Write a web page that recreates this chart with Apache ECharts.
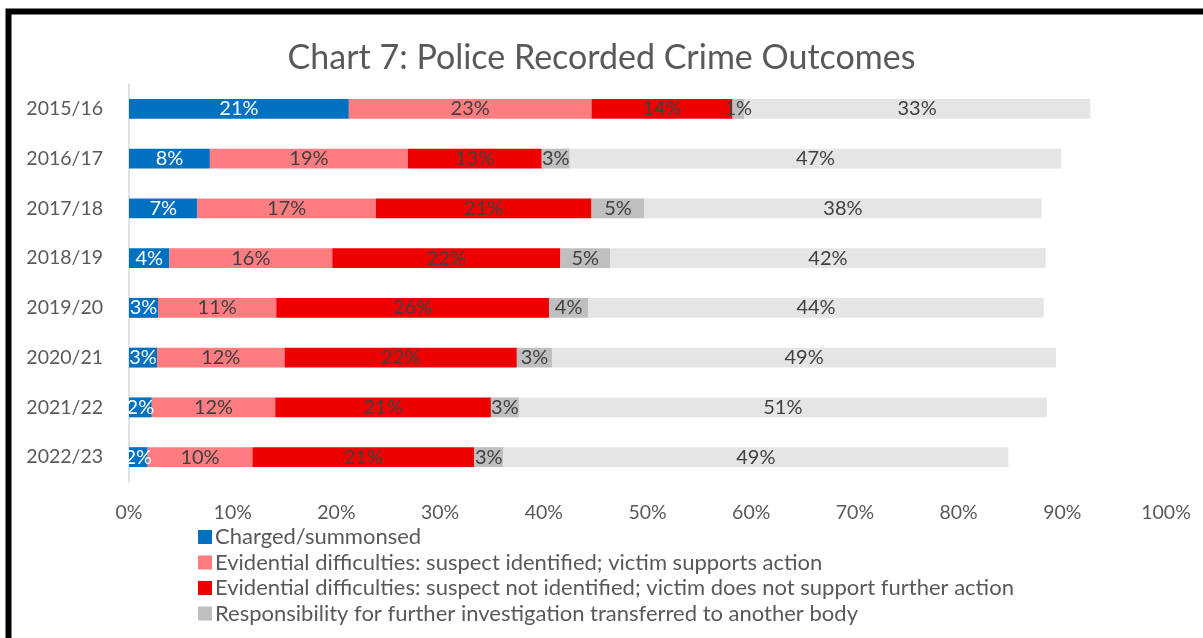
<!DOCTYPE html>
<html>
<head>
<meta charset="utf-8">
<title>Police Recorded Crime Outcomes</title>
<script src="https://cdn.jsdelivr.net/npm/echarts@6/dist/echarts.min.js"></script>
<style>
  html, body { margin: 0; padding: 0; background: #ffffff; }
  #chart { width: 1203px; height: 638px; }
</style>
</head>
<body>
<div id="chart"></div>
<script>
// Financial years, top to bottom
const years = ['2015/16', '2016/17', '2017/18', '2018/19', '2019/20', '2020/21', '2021/22', '2022/23'];

// Share of recorded crime by outcome (%)
const charged = [21.2, 7.8, 6.6, 3.9, 2.8, 2.7, 2.2, 1.8];
const suspectIdentified = [23.4, 19.1, 17.2, 15.7, 11.4, 12.3, 11.9, 10.1];
const suspectNotIdentified = [13.6, 12.9, 20.8, 22.0, 26.3, 22.4, 20.8, 21.4];
const transferred = [1.1, 2.7, 5.1, 4.8, 3.8, 3.4, 2.7, 2.8];
const otherOutcomes = [33.4, 47.4, 38.3, 42.0, 43.9, 48.6, 50.9, 48.7];

// Value axis tick labels
const xTicks = ['0%', '10%', '20%', '30%', '40%', '50%', '60%', '70%', '80%', '90%', '100%'];

const seriesNames = [
  'Charged/summonsed',
  'Evidential difficulties: suspect identified; victim supports action',
  'Evidential difficulties: suspect not identified; victim does not support further action',
  'Responsibility for further investigation transferred to another body',
  'Other outcomes'
];

const FONT = 'Lato, "Open Sans", sans-serif';
const colors = ['#0070C0', '#FF7C80', '#EE0000', '#BFBFBF', '#E5E5E5'];
const valueSets = [charged, suspectIdentified, suspectNotIdentified, transferred, otherOutcomes];

const series = valueSets.map(function (vals, i) {
  return {
    name: seriesNames[i],
    type: 'bar',
    stack: 'outcomes',
    barWidth: '40%',
    data: vals,
    itemStyle: { color: colors[i] },
    label: {
      show: true,
      position: 'inside',
      fontFamily: FONT,
      fontSize: 20,
      color: i === 0 ? '#FFFFFF' : '#404040',
      formatter: function (p) { return Math.round(p.value) + '%'; }
    },
    emphasis: { disabled: true }
  };
});

const chart = echarts.init(document.getElementById('chart'), null, { renderer: 'canvas' });

chart.setOption({
  animation: false,
  backgroundColor: '#FFFFFF',
  textStyle: { fontFamily: FONT },
  title: {
    text: 'Chart 7: Police Recorded Crime Outcomes',
    left: 'center',
    top: 36,
    textStyle: { fontFamily: FONT, fontSize: 34, fontWeight: 'normal', color: '#595959' }
  },
  graphic: [{
    type: 'rect',
    silent: true,
    shape: { x: 8.5, y: 11.5, width: 1400, height: 800 },
    style: { fill: 'none', stroke: '#000000', lineWidth: 6 }
  }],
  legend: {
    data: seriesNames.slice(0, 4),
    orient: 'vertical',
    left: 193,
    top: 521,
    itemWidth: 14,
    itemHeight: 14,
    itemGap: 3.5,
    icon: 'rect',
    selectedMode: false,
    textStyle: { fontFamily: FONT, fontSize: 22, lineHeight: 22, color: '#595959', padding: [0, 0, 0, -2] }
  },
  grid: { left: 129, right: 37, top: 84, bottom: 156, containLabel: false },
  xAxis: {
    type: 'value',
    min: 0,
    max: 100,
    interval: 10,
    axisLine: { show: false },
    axisTick: { show: false },
    splitLine: { show: false },
    axisLabel: {
      margin: 21,
      fontFamily: FONT,
      fontSize: 19.5,
      color: '#595959',
      formatter: function (v) { return xTicks[Math.round(v / 10)]; }
    }
  },
  yAxis: {
    type: 'category',
    data: years,
    inverse: true,
    axisLine: { show: true, lineStyle: { color: '#D9D9D9', width: 1.5 } },
    axisTick: { show: false },
    axisLabel: { margin: 26, fontFamily: FONT, fontSize: 19.5, color: '#595959' }
  },
  series: series
});
</script>
</body>
</html>
